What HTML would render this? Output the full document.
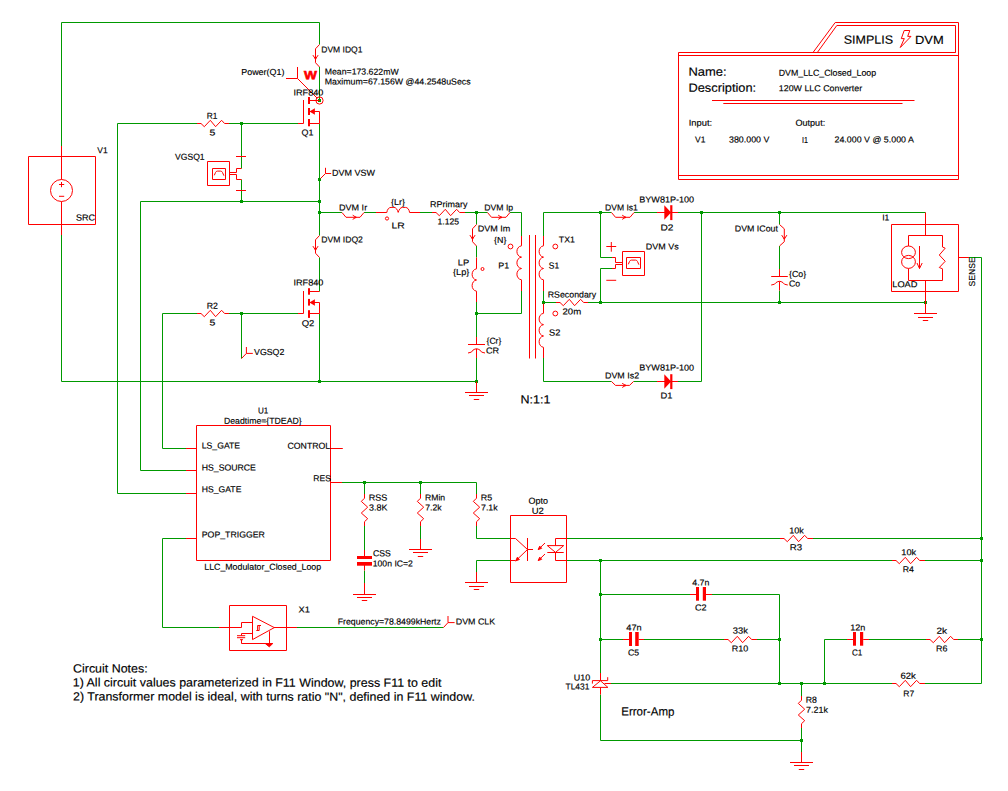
<!DOCTYPE html>
<html lang="en"><head><meta charset="utf-8"><title>DVM LLC Closed Loop</title>
<style>
html,body{margin:0;padding:0;background:#fff}
svg{display:block}
text{font-family:"Liberation Sans",Arial,Helvetica,sans-serif;fill:#000;stroke:#000;stroke-width:0.15px}
.s{font-size:8.7px}
.b{font-size:12px}
.g{fill:none;stroke:#009900;stroke-width:1}
.r{fill:none;stroke:#ff0000;stroke-width:1}
</style></head>
<body>
<svg width="1008" height="791" viewBox="0 0 1008 791">
<rect width="1008" height="791" fill="#fff"/>
<g class="g">
<path d="M61.5 146 L61.5 22.5 L319.5 22.5 L319.5 44.5"/>
<path d="M61.5 235 L61.5 381.5 L476.5 381.5"/>
<path d="M319.5 67 L319.5 100.5"/>
<rect x="318" y="99" width="3" height="3" fill="#009900" stroke="none"/>
<path d="M319.5 123.5 L319.5 235.5"/>
<rect x="318" y="178" width="3" height="3" fill="#009900" stroke="none"/>
<rect x="318" y="200" width="3" height="3" fill="#009900" stroke="none"/>
<rect x="318" y="211" width="3" height="3" fill="#009900" stroke="none"/>
<path d="M319.5 257.5 L319.5 291.5"/>
<path d="M319.5 313.5 L319.5 381.5"/>
<rect x="318" y="380" width="3" height="3" fill="#009900" stroke="none"/>
<path d="M186 493.5 L117.5 493.5 L117.5 123.5 L197 123.5"/>
<path d="M229 123.5 L298 123.5"/>
<rect x="240" y="122" width="3" height="3" fill="#009900" stroke="none"/>
<path d="M241.5 123.5 L241.5 168.5"/>
<path d="M241.5 179.5 L241.5 201.5"/>
<rect x="240" y="200" width="3" height="3" fill="#009900" stroke="none"/>
<path d="M186 470.5 L140.5 470.5 L140.5 201.5 L319.5 201.5"/>
<path d="M186 448.5 L162.5 448.5 L162.5 313.5 L197 313.5"/>
<path d="M229 313.5 L298 313.5"/>
<rect x="240" y="312" width="3" height="3" fill="#009900" stroke="none"/>
<path d="M241.5 313.5 L241.5 358.5"/>
<path d="M319.5 212.5 L342 212.5"/>
<path d="M364 212.5 L376 212.5"/>
<path d="M420 212.5 L432 212.5"/>
<path d="M465 212.5 L487.5 212.5"/>
<rect x="475" y="211" width="3" height="3" fill="#009900" stroke="none"/>
<path d="M510 212.5 L521.5 212.5 L521.5 236"/>
<path d="M476.5 212.5 L476.5 224.5"/>
<path d="M476.5 246 L476.5 257.5"/>
<path d="M476.5 302 L476.5 337"/>
<rect x="475" y="312" width="3" height="3" fill="#009900" stroke="none"/>
<path d="M476.5 313.5 L521.5 313.5 L521.5 291"/>
<path d="M476.5 358 L476.5 381.5"/>
<rect x="475" y="380" width="3" height="3" fill="#009900" stroke="none"/>
<path d="M543.5 236 L543.5 212.5 L611.5 212.5"/>
<path d="M543.5 291 L543.5 302.5"/>
<rect x="542" y="301" width="3" height="3" fill="#009900" stroke="none"/>
<path d="M543.5 358 L543.5 381.5 L611.5 381.5"/>
<rect x="599" y="211" width="3" height="3" fill="#009900" stroke="none"/>
<path d="M634 212.5 L657 212.5"/>
<path d="M678 212.5 L925.5 212.5"/>
<rect x="700" y="211" width="3" height="3" fill="#009900" stroke="none"/>
<rect x="778" y="211" width="3" height="3" fill="#009900" stroke="none"/>
<path d="M600.5 212.5 L600.5 257.5 L612 257.5"/>
<path d="M612 268.5 L600.5 268.5 L600.5 302.5"/>
<path d="M543.5 302.5 L556 302.5"/>
<path d="M588 302.5 L925.5 302.5"/>
<rect x="599" y="301" width="3" height="3" fill="#009900" stroke="none"/>
<rect x="778" y="301" width="3" height="3" fill="#009900" stroke="none"/>
<rect x="924" y="301" width="3" height="3" fill="#009900" stroke="none"/>
<path d="M633.5 381.5 L657 381.5"/>
<path d="M678 381.5 L701.5 381.5 L701.5 212.5"/>
<path d="M779.5 212.5 L779.5 224.5"/>
<path d="M779.5 246 L779.5 269"/>
<path d="M779.5 290.5 L779.5 302.5"/>
<path d="M969 257.5 L981.5 257.5 L981.5 683.5 L925 683.5"/>
<path d="M186 538.5 L162.5 538.5 L162.5 627.5 L219 627.5"/>
<path d="M297 627.5 L443.5 627.5"/>
<path d="M342 482.5 L476.5 482.5 L476.5 494"/>
<rect x="363" y="481" width="3" height="3" fill="#009900" stroke="none"/>
<rect x="419" y="481" width="3" height="3" fill="#009900" stroke="none"/>
<path d="M364.5 482.5 L364.5 494"/>
<path d="M364.5 526 L364.5 550"/>
<path d="M364.5 570.5 L364.5 583"/>
<path d="M420.5 482.5 L420.5 494"/>
<path d="M420.5 526 L420.5 539"/>
<path d="M476.5 526 L476.5 538.5 L510.5 538.5"/>
<path d="M510.5 560.5 L476.5 560.5 L476.5 572"/>
<path d="M566.5 538.5 L780 538.5"/>
<path d="M813 538.5 L981.5 538.5"/>
<rect x="980" y="537" width="3" height="3" fill="#009900" stroke="none"/>
<path d="M566.5 560.5 L892 560.5"/>
<path d="M925 560.5 L981.5 560.5"/>
<rect x="980" y="559" width="3" height="3" fill="#009900" stroke="none"/>
<rect x="599" y="559" width="3" height="3" fill="#009900" stroke="none"/>
<path d="M600.5 560.5 L600.5 673"/>
<rect x="599" y="593" width="3" height="3" fill="#009900" stroke="none"/>
<rect x="599" y="638" width="3" height="3" fill="#009900" stroke="none"/>
<path d="M611 683.5 L892 683.5"/>
<path d="M600.5 694.5 L600.5 740.5 L801.5 740.5"/>
<path d="M600.5 594.5 L690 594.5"/>
<path d="M712 594.5 L779.5 594.5 L779.5 683.5"/>
<rect x="778" y="638" width="3" height="3" fill="#009900" stroke="none"/>
<rect x="778" y="682" width="3" height="3" fill="#009900" stroke="none"/>
<path d="M600.5 639.5 L623 639.5"/>
<path d="M644 639.5 L724 639.5"/>
<path d="M757 639.5 L779.5 639.5"/>
<rect x="823" y="682" width="3" height="3" fill="#009900" stroke="none"/>
<path d="M824.5 683.5 L824.5 639.5 L847 639.5"/>
<path d="M869 639.5 L926 639.5"/>
<path d="M958 639.5 L981.5 639.5"/>
<rect x="980" y="638" width="3" height="3" fill="#009900" stroke="none"/>
<rect x="800" y="682" width="3" height="3" fill="#009900" stroke="none"/>
<path d="M801.5 683.5 L801.5 696"/>
<path d="M801.5 728 L801.5 752"/>
<rect x="800" y="739" width="3" height="3" fill="#009900" stroke="none"/>
</g>
<g class="r">
<path d="M61.5 146 L61.5 179.5"/>
<path d="M61.5 201.5 L61.5 235"/>
<circle cx="61.5" cy="190.5" r="11"/>
<path d="M28.5 156.5 L95.5 156.5 L95.5 224.5 L28.5 224.5Z"/>
<path d="M59 184.5 L64.2 184.5"/>
<path d="M61.5 182 L61.5 187.2"/>
<path d="M59 196.3 L64.2 196.3"/>
<path d="M319.5 44.5 L315.5 48.8 L315.5 62.7 L319.5 67"/>
<path d="M312.9 55.1 L315.5 59.1 L318.1 55.1"/>
<circle cx="315.5" cy="58.5" r="0.8" fill="#ff0000" stroke="none"/>
<circle cx="319.5" cy="100.5" r="3.6"/>
<path d="M310 100.5 L319.5 100.5"/>
<rect x="308" y="97" width="2" height="7" fill="#ff0000" stroke="none"/>
<rect x="308" y="108" width="2" height="7" fill="#ff0000" stroke="none"/>
<rect x="308" y="119" width="2" height="7.3" fill="#ff0000" stroke="none"/>
<path d="M298 123.5 L303.5 123.5 L303.5 100"/>
<path d="M310 111.5 L319.5 111.5 L319.5 123.5"/>
<path d="M309.4 111.5 L314.9 108.2 L314.9 114.8 Z" fill="#ff0000" stroke="none"/>
<path d="M310 123.5 L319.5 123.5"/>
<path d="M297.5 67 L297.5 78.5"/>
<path d="M286 78.5 L297.5 78.5 L317.3 98.3"/>
<path d="M320.5 178.5 L325.5 173.5"/>
<path d="M325.5 167.8 L325.5 173.5 L331.2 173.5"/>
<path d="M319.5 235.5 L315.5 239.8 L315.5 253.2 L319.5 257.5"/>
<path d="M312.9 246.1 L315.5 250.1 L318.1 246.1"/>
<circle cx="315.5" cy="249.5" r="0.8" fill="#ff0000" stroke="none"/>
<path d="M310 291.5 L319.5 291.5"/>
<rect x="308" y="288.2" width="2" height="6.5" fill="#ff0000" stroke="none"/>
<rect x="308" y="298.9" width="2" height="6.7" fill="#ff0000" stroke="none"/>
<rect x="308" y="310.2" width="2" height="7.7" fill="#ff0000" stroke="none"/>
<path d="M298 313.5 L303.5 313.5 L303.5 291"/>
<path d="M310 302.5 L319.5 302.5 L319.5 313.5"/>
<path d="M309.4 302.5 L314.9 299.2 L314.9 305.8 Z" fill="#ff0000" stroke="none"/>
<path d="M310 313.5 L319.5 313.5"/>
<path d="M197 123.5 L201 123.5 L204.3 126.7 L210.3 120.3 L215.6 126.7 L221.6 120.3 L224.6 123.5 L229 123.5"/>
<path d="M207.5 161.5 L229.5 161.5 L229.5 185.5 L207.5 185.5Z"/>
<path d="M212.5 168.5 L225.5 168.5 L225.5 179.5 L212.5 179.5Z"/>
<path d="M214.3 175.3 L215.5 172.5 Q216.1 171.1 217.5 171.1 L220.5 171.1 Q221.9 171.1 222.5 172.5 L223.9 175.7"/>
<path d="M229.5 172.5 L236.5 172.5 L236.5 168.5 L241.5 168.5"/>
<path d="M229.5 174.5 L236.5 174.5 L236.5 179.5 L241.5 179.5"/>
<path d="M236 156.5 L246 156.5"/>
<path d="M236 190.5 L246 190.5"/>
<path d="M197 313.5 L201 313.5 L204.3 316.7 L210.3 310.3 L215.6 316.7 L221.6 310.3 L224.6 313.5 L229 313.5"/>
<path d="M241.5 358.5 L246.4 353.4"/>
<path d="M246.4 347 L246.4 353.4 L252.8 353.4"/>
<path d="M342 212.5 L346 217.3 L360 217.3 L364 212.5"/>
<path d="M352.7 215.2 L356 217.3 L352.7 219.4"/>
<circle cx="355.7" cy="217.3" r="0.9" fill="#ff0000" stroke="none"/>
<path d="M376 212.5 L386.8 212.5 C387.2 209.5 388.8 207.4 391 207.4 L394 207.4 C396 207.4 397.4 209.6 398.2 212.4 C399 209.6 400.4 207.4 402.4 207.4 L405.4 207.4 C407.6 207.4 409.2 209.5 409.6 212.5 L420 212.5"/>
<circle cx="387" cy="218.5" r="1.6"/>
<path d="M432 212.5 L436 212.5 L439.3 215.7 L445.3 209.3 L450.6 215.7 L456.6 209.3 L459.6 212.5 L465 212.5"/>
<path d="M487.5 212.5 L491.5 217.3 L506 217.3 L510 212.5"/>
<path d="M498.2 215.2 L501.5 217.3 L498.2 219.4"/>
<circle cx="501.2" cy="217.3" r="0.9" fill="#ff0000" stroke="none"/>
<path d="M476.5 224.5 L472.5 228.8 L472.5 241.7 L476.5 246"/>
<path d="M469.9 235.1 L472.5 239.1 L475.1 235.1"/>
<circle cx="472.5" cy="238.5" r="0.8" fill="#ff0000" stroke="none"/>
<path d="M476.5 257.5 L476.5 268.8 C470.65 269.7 470.65 279.1 476.5 280 C470.65 280.9 470.65 290.3 476.5 291.2 L476.5 302"/>
<circle cx="482.5" cy="269" r="1.5"/>
<path d="M476.5 337 L476.5 344.5"/>
<path d="M468 344.5 L485 344.5"/>
<path d="M468 353 Q472.25 352.7 473 350.1 Q475 348.8 476.5 348.8"/>
<path d="M485 353 Q480.75 352.7 480 350.1 Q478 348.8 476.5 348.8"/>
<path d="M476.5 348.8 L476.5 358"/>
<path d="M476.5 381.5 L476.5 392.5"/>
<path d="M465 392.5 L488 392.5"/>
<path d="M469 395.5 L484 395.5"/>
<path d="M473.8 399.5 L479.2 399.5"/>
<path d="M521.5 236 L521.5 245.8 C515.38 246.71 515.38 256.24 521.5 257.15 C515.38 258.06 515.38 267.59 521.5 268.5 C515.38 269.41 515.38 278.94 521.5 279.85 L521.5 291"/>
<circle cx="510.5" cy="246.5" r="2.4"/>
<path d="M529.5 235 L529.5 358.5"/>
<path d="M535.5 235 L535.5 358.5"/>
<path d="M543.5 236 L543.5 245.8 C537.65 246.71 537.65 256.24 543.5 257.15 C537.65 258.06 537.65 267.59 543.5 268.5 C537.65 269.41 537.65 278.94 543.5 279.85 L543.5 291"/>
<circle cx="555.3" cy="246.5" r="2.4"/>
<path d="M543.5 303.5 L543.5 313.3 C537.65 314.21 537.65 323.74 543.5 324.65 C537.65 325.56 537.65 335.09 543.5 336 C537.65 336.91 537.65 346.44 543.5 347.35 L543.5 358"/>
<circle cx="555.3" cy="313.5" r="2.4"/>
<path d="M611.5 212.5 L615.5 217.3 L630 217.3 L634 212.5"/>
<path d="M622.2 215.2 L625.5 217.3 L622.2 219.4"/>
<circle cx="625.2" cy="217.3" r="0.9" fill="#ff0000" stroke="none"/>
<path d="M657 212.5 L678 212.5"/>
<path d="M664.3 205.2 L664.3 219.8 L671.1 212.5 Z" fill="#ff0000" stroke="none"/>
<rect x="670.2" y="205.2" width="2.2" height="14.9" fill="#ff0000" stroke="none"/>
<path d="M925.5 212.5 L925.5 235.5"/>
<path d="M612 257.5 L615.5 257.5 L615.5 262.5 L622.5 262.5"/>
<path d="M612 268.5 L615.5 268.5 L615.5 264.5 L622.5 264.5"/>
<path d="M622.5 251.5 L644.5 251.5 L644.5 275.5 L622.5 275.5Z"/>
<path d="M626.5 257.5 L640.5 257.5 L640.5 268.5 L626.5 268.5Z"/>
<path d="M628.3 264.3 L629.5 261.5 Q630.1 260.1 631.5 260.1 L635.5 260.1 Q636.9 260.1 637.5 261.5 L638.9 264.7"/>
<path d="M606.3 246.5 L616.2 246.5"/>
<path d="M611.3 242 L611.3 251.7"/>
<path d="M606.3 280.3 L616.2 280.3"/>
<path d="M556 302.5 L560 302.5 L563.3 305.7 L569.3 299.3 L574.6 305.7 L580.6 299.3 L583.6 302.5 L588 302.5"/>
<path d="M611.5 381.5 L615.5 385.4 L629.5 385.4 L633.5 381.5"/>
<path d="M622.2 383.3 L625.5 385.4 L622.2 387.5"/>
<circle cx="625.2" cy="385.4" r="0.9" fill="#ff0000" stroke="none"/>
<path d="M657 381.5 L678 381.5"/>
<path d="M664.3 374.2 L664.3 388.8 L671.1 381.5 Z" fill="#ff0000" stroke="none"/>
<rect x="670.2" y="374.2" width="2.2" height="14.9" fill="#ff0000" stroke="none"/>
<path d="M779.5 224.5 L784.3 228.8 L784.3 241.7 L779.5 246"/>
<path d="M781.7 235.1 L784.3 239.1 L786.9 235.1"/>
<circle cx="784.3" cy="238.5" r="0.8" fill="#ff0000" stroke="none"/>
<path d="M779.5 269 L779.5 276.5"/>
<path d="M771.2 276.5 L787.8 276.5"/>
<path d="M771.2 285 Q775.35 284.7 776 282.6 Q778 281.3 779.5 281.3"/>
<path d="M787.8 285 Q783.65 284.7 783 282.6 Q781 281.3 779.5 281.3"/>
<path d="M779.5 281.3 L779.5 290.5"/>
<path d="M891.5 224.5 L958.5 224.5 L958.5 291.5 L891.5 291.5Z"/>
<path d="M908.5 246 L908.5 235.5 L942.5 235.5 L942.5 247"/>
<path d="M942.5 247 L945.2 248.2 L939.3 255 L945.2 261.3 L939.3 267.5 L942.5 268.8 L942.5 280.5 L908.5 280.5 L908.5 268.5"/>
<ellipse cx="908.5" cy="252.3" rx="6.9" ry="6.3"/>
<ellipse cx="908.5" cy="261.9" rx="6.9" ry="6.5"/>
<path d="M919.5 246 L919.5 268.5"/>
<path d="M917 263 L919.5 268.5 L922.2 263"/>
<path d="M925.5 280.5 L925.5 313.5"/>
<path d="M914 313.5 L937 313.5"/>
<path d="M918 317.5 L933 317.5"/>
<path d="M922.8 320.5 L928.2 320.5"/>
<path d="M958.5 257.5 L969 257.5"/>
<path d="M196.5 425.5 L330.5 425.5 L330.5 560.5 L196.5 560.5Z"/>
<path d="M186 448.5 L196.5 448.5"/>
<path d="M186 470.5 L196.5 470.5"/>
<path d="M186 493.5 L196.5 493.5"/>
<path d="M186 538.5 L196.5 538.5"/>
<path d="M330.5 448.5 L342.8 448.5"/>
<path d="M330.5 482.5 L342 482.5"/>
<path d="M219 627.5 L241.5 627.5 L241.5 622.5 L252.5 622.5"/>
<path d="M229.5 605.5 L286.5 605.5 L286.5 650.5 L229.5 650.5Z"/>
<path d="M252.5 616.3 L252.5 639.6 L274.3 627.6Z"/>
<path d="M274 627.5 L297 627.5"/>
<path d="M252.5 633.5 L241.5 633.5 L241.5 635.6"/>
<path d="M237 635.7 L245.2 635.7"/>
<path d="M237 637.7 L245.2 637.7"/>
<path d="M240 639.7 L243 639.7"/>
<path d="M241.5 639.7 L241.5 643.5 L269.5 643.5 L269.5 631.3"/>
<path d="M265.2 643.5 L272.8 643.5 L269.3 646.8 Z" fill="#ff0000"/>
<path d="M256.3 630.5 L259.2 630.5"/>
<path d="M257.6 630.5 L257.6 625.5 L261 625.5"/>
<path d="M259.2 630.5 L259.2 625.5"/>
<path d="M443.5 627.5 L448 622.6"/>
<path d="M448 616 L448 622.6 L454.6 622.6"/>
<path d="M364.5 494 L364.5 498.2 L361.3 501.4 L367.7 507.2 L361.3 513 L367.7 518.7 L364.5 521.7 L364.5 526"/>
<path d="M364.5 550 L364.5 556"/>
<rect x="357" y="556" width="15" height="3" fill="#ff0000" stroke="none"/>
<rect x="357" y="562" width="15" height="3.7" fill="#ff0000" stroke="none"/>
<path d="M364.5 565 L364.5 570.5"/>
<path d="M364.5 583 L364.5 594.5"/>
<path d="M353 594.5 L376 594.5"/>
<path d="M357 597.5 L372 597.5"/>
<path d="M361.8 600.5 L367.2 600.5"/>
<path d="M420.5 494 L420.5 498.2 L417.3 501.4 L423.7 507.2 L417.3 513 L423.7 518.7 L420.5 521.7 L420.5 526"/>
<path d="M420.5 539 L420.5 549.5"/>
<path d="M409 549.5 L432 549.5"/>
<path d="M413 552.5 L428 552.5"/>
<path d="M417.8 556.5 L423.2 556.5"/>
<path d="M476.5 494 L476.5 498.2 L473.3 501.4 L479.7 507.2 L473.3 513 L479.7 518.7 L476.5 521.7 L476.5 526"/>
<path d="M510.5 515.5 L566.5 515.5 L566.5 582.5 L510.5 582.5Z"/>
<path d="M510.5 538.5 L515.5 538.5 L527.5 549.5"/>
<path d="M527.5 538 L527.5 561"/>
<path d="M527.5 549.5 L533 549.5"/>
<path d="M527.5 549.5 L515.5 561"/>
<path d="M510.5 560.5 L515.5 560.5"/>
<path d="M515.8 560.8 L517.3 557.3 L519.4 559.5 Z" fill="#ff0000"/>
<path d="M545 543 L538.3 549.5"/>
<path d="M538.2 549.6 L539.7 546.2 L541.7 548.3 Z" fill="#ff0000"/>
<path d="M545 554 L538.3 560.5"/>
<path d="M538.2 560.6 L539.7 557.2 L541.7 559.3 Z" fill="#ff0000"/>
<path d="M566.5 538.5 L555.5 538.5 L555.5 545.6"/>
<path d="M555.5 552.4 L555.5 560.5 L566.5 560.5"/>
<path d="M547.3 545.6 L563.7 545.6 L555.5 552.4Z"/>
<path d="M547.3 552.5 L563.7 552.5"/>
<path d="M476.5 572 L476.5 582.5"/>
<path d="M465 582.5 L488 582.5"/>
<path d="M469 586.5 L484 586.5"/>
<path d="M473.8 589.5 L479.2 589.5"/>
<path d="M780 538.5 L784 538.5 L787.3 541.7 L793.3 535.3 L798.6 541.7 L804.6 535.3 L807.6 538.5 L813 538.5"/>
<path d="M892 560.5 L896 560.5 L899.3 563.7 L905.3 557.3 L910.6 563.7 L916.6 557.3 L919.6 560.5 L925 560.5"/>
<path d="M600.5 673 L600.5 680.6"/>
<path d="M600.5 687.4 L600.5 694.5"/>
<path d="M592.4 683.6 L592.4 680.6 L607.7 680.6 L607.7 677.2"/>
<path d="M600.5 680.8 L592.4 687.4 L607.9 687.4Z"/>
<path d="M604.5 683.5 L611 683.5"/>
<path d="M690 594.5 L696 594.5"/>
<path d="M706 594.5 L712 594.5"/>
<rect x="696" y="587" width="3" height="13.7" fill="#ff0000" stroke="none"/>
<rect x="702.8" y="587" width="3.2" height="13.7" fill="#ff0000" stroke="none"/>
<path d="M623 639.5 L629 639.5"/>
<path d="M638.7 639.5 L644 639.5"/>
<rect x="629" y="632" width="3" height="14" fill="#ff0000" stroke="none"/>
<rect x="635.2" y="632" width="3.5" height="14" fill="#ff0000" stroke="none"/>
<path d="M724 639.5 L728 639.5 L731.3 642.7 L737.3 636.3 L742.6 642.7 L748.6 636.3 L751.6 639.5 L757 639.5"/>
<path d="M847 639.5 L853 639.5"/>
<path d="M863.2 639.5 L869 639.5"/>
<rect x="853" y="632" width="3" height="13.7" fill="#ff0000" stroke="none"/>
<rect x="860" y="632" width="3.2" height="13.7" fill="#ff0000" stroke="none"/>
<path d="M926 639.5 L930 639.5 L933.3 642.7 L939.3 636.3 L944.6 642.7 L950.6 636.3 L953.6 639.5 L958 639.5"/>
<path d="M892 683.5 L896 683.5 L899.3 686.7 L905.3 680.3 L910.6 686.7 L916.6 680.3 L919.6 683.5 L925 683.5"/>
<path d="M801.5 696 L801.5 700.2 L798.3 703.4 L804.7 709.2 L798.3 715 L804.7 720.7 L801.5 723.7 L801.5 728"/>
<path d="M801.5 752 L801.5 762.5"/>
<path d="M790 762.5 L813 762.5"/>
<path d="M794 765.5 L809 765.5"/>
<path d="M798.8 769.5 L804.2 769.5"/>
<path d="M678.5 52.5 L813 52.5 L835.2 22.5 L958.5 22.5 L958.5 179.5 L678.5 179.5Z"/>
<path d="M678.5 55.5 L958.5 55.5"/>
<path d="M678.5 175.5 L958.5 175.5"/>
<path d="M817.3 52.5 L836.8 25.5 L955.5 25.5 L955.5 52.5Z"/>
<path d="M813 52.5 L955.5 52.5"/>
<path d="M712 100.5 L914.5 100.5"/>
<path d="M723.3 103.5 L902.5 103.5"/>
<path d="M904.2 30.5 L909.8 30.5 L907.7 36.4 L911 36.4 L900.3 47.5 L904.3 38.6 L901.3 38.6Z"/>
</g>
<g>
<text class="s" transform="matrix(1 .0006 0 1 321.25 52.5)" textLength="41.16" lengthAdjust="spacingAndGlyphs">DVM IDQ1</text>
<text class="s" transform="matrix(1 .0006 0 1 241.25 75)" textLength="43.16" lengthAdjust="spacingAndGlyphs">Power(Q1)</text>
<text class="s" transform="matrix(1 .0006 0 1 324.75 74.6)" textLength="73.9" lengthAdjust="spacingAndGlyphs">Mean=173.622mW</text>
<text class="s" transform="matrix(1 .0006 0 1 324.75 84.5)" textLength="145.9" lengthAdjust="spacingAndGlyphs">Maximum=67.156W @44.2548uSecs</text>
<text class="s" transform="matrix(1 .0006 0 1 293.49 95.6)" textLength="29.92" lengthAdjust="spacingAndGlyphs">IRF840</text>
<text class="s" transform="matrix(1 .0006 0 1 301.5 135.6)" textLength="11.9" lengthAdjust="spacingAndGlyphs">Q1</text>
<text class="s" transform="matrix(1 .0006 0 1 206.73 118.8)" textLength="10.68" lengthAdjust="spacingAndGlyphs">R1</text>
<text class="s" transform="matrix(1 .0006 0 1 209.5 135.6)" textLength="5.9" lengthAdjust="spacingAndGlyphs">5</text>
<text class="s" transform="matrix(1 .0006 0 1 175 159.8)" textLength="29.64" lengthAdjust="spacingAndGlyphs">VGSQ1</text>
<text class="s" transform="matrix(1 .0006 0 1 97.25 153.3)" textLength="10.4" lengthAdjust="spacingAndGlyphs">V1</text>
<text class="s" transform="matrix(1 .0006 0 1 76.01 220.5)" textLength="19.14" lengthAdjust="spacingAndGlyphs">SRC</text>
<text class="s" transform="matrix(1 .0006 0 1 332.01 175.8)" textLength="42.9" lengthAdjust="spacingAndGlyphs">DVM VSW</text>
<text class="s" transform="matrix(1 .0006 0 1 339 210.6)" textLength="28.15" lengthAdjust="spacingAndGlyphs">DVM Ir</text>
<text class="s" transform="matrix(1 .0006 0 1 391 205)" textLength="13.9" lengthAdjust="spacingAndGlyphs">{Lr}</text>
<text class="s" transform="matrix(1 .0006 0 1 391.47 228.6)" textLength="13.21" lengthAdjust="spacingAndGlyphs">LR</text>
<text class="s" transform="matrix(1 .0006 0 1 430.01 207.3)" textLength="37.4" lengthAdjust="spacingAndGlyphs">RPrimary</text>
<text class="s" transform="matrix(1 .0006 0 1 437.5 224.6)" textLength="21.65" lengthAdjust="spacingAndGlyphs">1.125</text>
<text class="s" transform="matrix(1 .0006 0 1 484.25 210.6)" textLength="28.9" lengthAdjust="spacingAndGlyphs">DVM Ip</text>
<text class="s" transform="matrix(1 .0006 0 1 477.74 231.5)" textLength="32.67" lengthAdjust="spacingAndGlyphs">DVM Im</text>
<text class="s" transform="matrix(1 .0006 0 1 494 243)" textLength="12.39" lengthAdjust="spacingAndGlyphs">{N}</text>
<text class="s" transform="matrix(1 .0006 0 1 457.73 265.6)" textLength="11.43" lengthAdjust="spacingAndGlyphs">LP</text>
<text class="s" transform="matrix(1 .0006 0 1 453 275)" textLength="16.4" lengthAdjust="spacingAndGlyphs">{Lp}</text>
<text class="s" transform="matrix(1 .0006 0 1 498.23 268.5)" textLength="10.93" lengthAdjust="spacingAndGlyphs">P1</text>
<text class="s" transform="matrix(1 .0006 0 1 558.75 242.5)" textLength="16.15" lengthAdjust="spacingAndGlyphs">TX1</text>
<text class="s" transform="matrix(1 .0006 0 1 548.76 268.5)" textLength="10.38" lengthAdjust="spacingAndGlyphs">S1</text>
<text class="s" transform="matrix(1 .0006 0 1 547.75 297.5)" textLength="48.4" lengthAdjust="spacingAndGlyphs">RSecondary</text>
<text class="s" transform="matrix(1 .0006 0 1 562.5 314.4)" textLength="18.66" lengthAdjust="spacingAndGlyphs">20m</text>
<text class="s" transform="matrix(1 .0006 0 1 549 335.4)" textLength="11.4" lengthAdjust="spacingAndGlyphs">S2</text>
<text class="s" transform="matrix(1 .0006 0 1 486.5 343.8)" textLength="14.89" lengthAdjust="spacingAndGlyphs">{Cr}</text>
<text class="s" transform="matrix(1 .0006 0 1 485.99 353.4)" textLength="13.17" lengthAdjust="spacingAndGlyphs">CR</text>
<text class="s" transform="matrix(1 .0006 0 1 321.25 242.5)" textLength="41.66" lengthAdjust="spacingAndGlyphs">DVM IDQ2</text>
<text class="s" transform="matrix(1 .0006 0 1 293.49 285.6)" textLength="29.92" lengthAdjust="spacingAndGlyphs">IRF840</text>
<text class="s" transform="matrix(1 .0006 0 1 301.75 326.3)" textLength="12.64" lengthAdjust="spacingAndGlyphs">Q2</text>
<text class="s" transform="matrix(1 .0006 0 1 206.73 308.8)" textLength="11.18" lengthAdjust="spacingAndGlyphs">R2</text>
<text class="s" transform="matrix(1 .0006 0 1 209.5 325.6)" textLength="5.9" lengthAdjust="spacingAndGlyphs">5</text>
<text class="s" transform="matrix(1 .0006 0 1 254 355)" textLength="30.39" lengthAdjust="spacingAndGlyphs">VGSQ2</text>
<text class="s" transform="matrix(1 .0006 0 1 605 210.6)" textLength="32.9" lengthAdjust="spacingAndGlyphs">DVM Is1</text>
<text class="s" transform="matrix(1 .0006 0 1 639.25 202.5)" textLength="54.9" lengthAdjust="spacingAndGlyphs">BYW81P-100</text>
<text class="s" transform="matrix(1 .0006 0 1 660.48 230.6)" textLength="12.93" lengthAdjust="spacingAndGlyphs">D2</text>
<text class="s" transform="matrix(1 .0006 0 1 645.75 249.5)" textLength="32.9" lengthAdjust="spacingAndGlyphs">DVM Vs</text>
<text class="s" transform="matrix(1 .0006 0 1 734.76 231.6)" textLength="43.14" lengthAdjust="spacingAndGlyphs">DVM ICout</text>
<text class="s" transform="matrix(1 .0006 0 1 789 276.9)" textLength="17.14" lengthAdjust="spacingAndGlyphs">{Co}</text>
<text class="s" transform="matrix(1 .0006 0 1 789 286.6)" textLength="11.15" lengthAdjust="spacingAndGlyphs">Co</text>
<text class="s" transform="matrix(1 .0006 0 1 882.22 220.6)" textLength="7.2" lengthAdjust="spacingAndGlyphs">I1</text>
<text class="s" transform="matrix(1 .0006 0 1 892.24 287.3)" textLength="25.16" lengthAdjust="spacingAndGlyphs">LOAD</text>
<text class="s" transform="matrix(1 .0006 0 1 605 378.5)" textLength="34.15" lengthAdjust="spacingAndGlyphs">DVM Is2</text>
<text class="s" transform="matrix(1 .0006 0 1 639.25 370.6)" textLength="54.9" lengthAdjust="spacingAndGlyphs">BYW81P-100</text>
<text class="s" transform="matrix(1 .0006 0 1 660.48 398.5)" textLength="11.93" lengthAdjust="spacingAndGlyphs">D1</text>
<text class="s" transform="matrix(1 .0006 0 1 258 413.5)" textLength="10.4" lengthAdjust="spacingAndGlyphs">U1</text>
<text class="s" transform="matrix(1 .0006 0 1 224 423.8)" textLength="77.65" lengthAdjust="spacingAndGlyphs">Deadtime={TDEAD}</text>
<text class="s" transform="matrix(1 .0006 0 1 201.75 448.5)" textLength="38.4" lengthAdjust="spacingAndGlyphs">LS_GATE</text>
<text class="s" transform="matrix(1 .0006 0 1 201.75 470.4)" textLength="54.15" lengthAdjust="spacingAndGlyphs">HS_SOURCE</text>
<text class="s" transform="matrix(1 .0006 0 1 201.75 492.3)" textLength="39.66" lengthAdjust="spacingAndGlyphs">HS_GATE</text>
<text class="s" transform="matrix(1 .0006 0 1 201.75 537.5)" textLength="63.15" lengthAdjust="spacingAndGlyphs">POP_TRIGGER</text>
<text class="s" transform="matrix(1 .0006 0 1 287.5 448.8)" textLength="42.65" lengthAdjust="spacingAndGlyphs">CONTROL</text>
<text class="s" transform="matrix(1 .0006 0 1 313.25 481.3)" textLength="17.65" lengthAdjust="spacingAndGlyphs">RES</text>
<text class="s" transform="matrix(1 .0006 0 1 204.25 569.8)" textLength="116.9" lengthAdjust="spacingAndGlyphs">LLC_Modulator_Closed_Loop</text>
<text class="s" transform="matrix(1 .0006 0 1 368.74 500.4)" textLength="18.66" lengthAdjust="spacingAndGlyphs">RSS</text>
<text class="s" transform="matrix(1 .0006 0 1 369 510.4)" textLength="18.4" lengthAdjust="spacingAndGlyphs">3.8K</text>
<text class="s" transform="matrix(1 .0006 0 1 425 500.4)" textLength="20.16" lengthAdjust="spacingAndGlyphs">RMin</text>
<text class="s" transform="matrix(1 .0006 0 1 425.26 510.4)" textLength="16.39" lengthAdjust="spacingAndGlyphs">7.2k</text>
<text class="s" transform="matrix(1 .0006 0 1 480.74 500.6)" textLength="11.41" lengthAdjust="spacingAndGlyphs">R5</text>
<text class="s" transform="matrix(1 .0006 0 1 481.01 510.6)" textLength="16.64" lengthAdjust="spacingAndGlyphs">7.1k</text>
<text class="s" transform="matrix(1 .0006 0 1 373 556.3)" textLength="17.9" lengthAdjust="spacingAndGlyphs">CSS</text>
<text class="s" transform="matrix(1 .0006 0 1 372.75 566.5)" textLength="40.16" lengthAdjust="spacingAndGlyphs">100n IC=2</text>
<text class="s" transform="matrix(1 .0006 0 1 528.5 503.8)" textLength="19.4" lengthAdjust="spacingAndGlyphs">Opto</text>
<text class="s" transform="matrix(1 .0006 0 1 531.73 513.8)" textLength="12.18" lengthAdjust="spacingAndGlyphs">U2</text>
<text class="s" transform="matrix(1 .0006 0 1 298.5 612.5)" textLength="11.4" lengthAdjust="spacingAndGlyphs">X1</text>
<text class="s" transform="matrix(1 .0006 0 1 337.75 624.4)" textLength="103.15" lengthAdjust="spacingAndGlyphs">Frequency=78.8499kHertz</text>
<text class="s" transform="matrix(1 .0006 0 1 455.75 624.6)" textLength="39.41" lengthAdjust="spacingAndGlyphs">DVM CLK</text>
<text class="s" transform="matrix(1 .0006 0 1 789.26 533.4)" textLength="14.64" lengthAdjust="spacingAndGlyphs">10k</text>
<text class="s" transform="matrix(1 .0006 0 1 789.75 550.3)" textLength="12.41" lengthAdjust="spacingAndGlyphs">R3</text>
<text class="s" transform="matrix(1 .0006 0 1 901.25 555.3)" textLength="14.9" lengthAdjust="spacingAndGlyphs">10k</text>
<text class="s" transform="matrix(1 .0006 0 1 902.75 572.3)" textLength="11.15" lengthAdjust="spacingAndGlyphs">R4</text>
<text class="s" transform="matrix(1 .0006 0 1 692.25 585.6)" textLength="17.14" lengthAdjust="spacingAndGlyphs">4.7n</text>
<text class="s" transform="matrix(1 .0006 0 1 695 610.6)" textLength="11.65" lengthAdjust="spacingAndGlyphs">C2</text>
<text class="s" transform="matrix(1 .0006 0 1 626.25 630.6)" textLength="15.39" lengthAdjust="spacingAndGlyphs">47n</text>
<text class="s" transform="matrix(1 .0006 0 1 628 655.6)" textLength="11.15" lengthAdjust="spacingAndGlyphs">C5</text>
<text class="s" transform="matrix(1 .0006 0 1 732.76 633.5)" textLength="15.14" lengthAdjust="spacingAndGlyphs">33k</text>
<text class="s" transform="matrix(1 .0006 0 1 731.75 651.5)" textLength="16.4" lengthAdjust="spacingAndGlyphs">R10</text>
<text class="s" transform="matrix(1 .0006 0 1 850.24 630.6)" textLength="15.17" lengthAdjust="spacingAndGlyphs">12n</text>
<text class="s" transform="matrix(1 .0006 0 1 852.01 655.6)" textLength="10.38" lengthAdjust="spacingAndGlyphs">C1</text>
<text class="s" transform="matrix(1 .0006 0 1 936.51 633.8)" textLength="10.63" lengthAdjust="spacingAndGlyphs">2k</text>
<text class="s" transform="matrix(1 .0006 0 1 935.99 651.5)" textLength="11.41" lengthAdjust="spacingAndGlyphs">R6</text>
<text class="s" transform="matrix(1 .0006 0 1 900.51 678.8)" textLength="15.39" lengthAdjust="spacingAndGlyphs">62k</text>
<text class="s" transform="matrix(1 .0006 0 1 903.25 696.6)" textLength="10.91" lengthAdjust="spacingAndGlyphs">R7</text>
<text class="s" transform="matrix(1 .0006 0 1 573.74 680.6)" textLength="16.41" lengthAdjust="spacingAndGlyphs">U10</text>
<text class="s" transform="matrix(1 .0006 0 1 565.5 689.6)" textLength="23.89" lengthAdjust="spacingAndGlyphs">TL431</text>
<text class="s" transform="matrix(1 .0006 0 1 805.74 702.8)" textLength="11.17" lengthAdjust="spacingAndGlyphs">R8</text>
<text class="s" transform="matrix(1 .0006 0 1 806.01 712.8)" textLength="21.89" lengthAdjust="spacingAndGlyphs">7.21k</text>
<text class="s" transform="matrix(1 .0006 0 1 778.75 75.8)" textLength="97.4" lengthAdjust="spacingAndGlyphs">DVM_LLC_Closed_Loop</text>
<text class="s" transform="matrix(1 .0006 0 1 778.75 91.3)" textLength="83.4" lengthAdjust="spacingAndGlyphs">120W LLC Converter</text>
<text class="s" transform="matrix(1 .0006 0 1 688.73 125.8)" textLength="23.45" lengthAdjust="spacingAndGlyphs">Input:</text>
<text class="s" transform="matrix(1 .0006 0 1 795.5 125.8)" textLength="29.66" lengthAdjust="spacingAndGlyphs">Output:</text>
<text class="s" transform="matrix(1 .0006 0 1 695 142.5)" textLength="10.38" lengthAdjust="spacingAndGlyphs">V1</text>
<text class="s" transform="matrix(1 .0006 0 1 729.01 142.5)" textLength="40.4" lengthAdjust="spacingAndGlyphs">380.000 V</text>
<text class="s" transform="matrix(1 .0006 0 1 802 142.5)" textLength="5.9" lengthAdjust="spacingAndGlyphs">I1</text>
<text class="s" transform="matrix(1 .0006 0 1 834.5 142.5)" textLength="79.4" lengthAdjust="spacingAndGlyphs">24.000 V @ 5.000 A</text>
<text class="b" transform="matrix(1 .0006 0 1 843.75 43.8)" textLength="49.41" lengthAdjust="spacingAndGlyphs">SIMPLIS</text>
<text class="b" transform="matrix(1 .0006 0 1 914.96 43.9)" textLength="28.73" lengthAdjust="spacingAndGlyphs">DVM</text>
<text class="b" transform="matrix(1 .0006 0 1 688.46 75.8)" textLength="38.23" lengthAdjust="spacingAndGlyphs">Name:</text>
<text class="b" transform="matrix(1 .0006 0 1 688.48 91.8)" textLength="67.69" lengthAdjust="spacingAndGlyphs">Description:</text>
<text class="b" transform="matrix(1 .0006 0 1 520.47 403.5)" textLength="29.94" lengthAdjust="spacingAndGlyphs">N:1:1</text>
<text class="b" transform="matrix(1 .0006 0 1 621.24 715.6)" textLength="53.16" lengthAdjust="spacingAndGlyphs">Error-Amp</text>
<text class="b" transform="matrix(1 .0006 0 1 72.99 672.5)" textLength="74.67" lengthAdjust="spacingAndGlyphs">Circuit Notes:</text>
<text class="b" transform="matrix(1 .0006 0 1 72.75 686.5)" textLength="368.65" lengthAdjust="spacingAndGlyphs">1) All circuit values parameterized in F11 Window, press F11 to edit</text>
<text class="b" transform="matrix(1 .0006 0 1 73 700.5)" textLength="401.9" lengthAdjust="spacingAndGlyphs">2) Transformer model is ideal, with turns ratio &quot;N&quot;, defined in F11 window.</text>
<text class="s" transform="matrix(0.0006 -1 1 0 975 286.6)" textLength="29.3" lengthAdjust="spacingAndGlyphs">SENSE</text>
<text transform="matrix(1 .0006 0 1 303.9 79.3)" textLength="12.9" lengthAdjust="spacingAndGlyphs" style="font:bold 11.9px 'Liberation Sans',Arial,sans-serif;fill:#f00;stroke:#f00;stroke-width:0.6px">W</text>
</g>
</svg>
</body></html>
